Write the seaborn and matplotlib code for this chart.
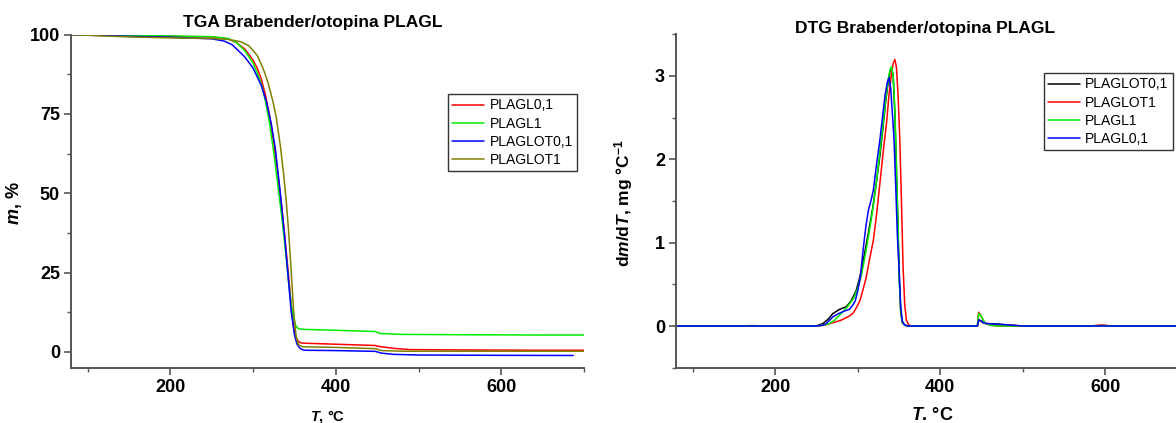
import pandas as pd
import numpy as np
import matplotlib.pyplot as plt
import matplotlib.ticker as mticker
import seaborn as sns

# TGA data (T in degC, mass in %)
tga_red_T = [80, 150, 200, 250, 270, 280, 290, 300, 305, 310, 315, 320, 325, 330, 335, 340, 343, 346, 349, 352, 355, 358, 365, 400, 448, 452, 470, 490, 550, 650, 700]
tga_red_m = [100, 99.7, 99.5, 99.3, 98.7, 97.5, 95.5, 92, 89.5, 86, 81, 74.5, 66, 56, 45, 32, 24, 15, 8, 4.5, 3.2, 2.8, 2.7, 2.4, 2.0, 1.7, 1.1, 0.7, 0.6, 0.5, 0.5]

tga_green_T = [80, 150, 200, 250, 270, 280, 290, 300, 305, 310, 315, 320, 325, 330, 335, 340, 343, 346, 349, 352, 355, 360, 400, 448, 453, 480, 550, 650, 700]
tga_green_m = [100, 99.8, 99.6, 99.4, 98.8, 97.5, 95, 91, 88, 84.5, 79, 72, 63, 52.5, 42, 30, 22, 15, 10.5, 8, 7.3, 7.1, 6.8, 6.4, 5.8, 5.5, 5.4, 5.3, 5.3]

tga_blue_T = [80, 150, 200, 250, 265, 275, 290, 300, 310, 316, 322, 327, 333, 338, 342, 346, 350, 353, 357, 362, 400, 448, 455, 470, 500, 600, 687]
tga_blue_m = [100, 99.5, 99.2, 98.7, 98, 96.8, 93, 89.5, 84, 79, 72, 64, 50, 37, 25, 13, 5.5, 2.5, 1.0, 0.5, 0.4, 0.15, -0.4, -0.8, -1.0, -1.1, -1.15]

tga_olive_T = [80, 150, 200, 250, 270, 285, 295, 305, 312, 318, 324, 328, 333, 337, 340, 343, 346, 349, 352, 355, 360, 400, 448, 455, 480, 600, 700]
tga_olive_m = [100, 99.3, 99, 98.8, 98.5, 97.8, 96.5, 93.5, 89.5, 85, 79, 74, 65, 56, 48, 38, 26, 13, 5, 2.2, 1.6, 1.4, 1.0, 0.4, 0.2, 0.2, 0.2]

tga_names = ["PLAGL0,1", "PLAGL1", "PLAGLOT0,1", "PLAGLOT1"]
tga_colors = ["#ff0000", "#00ee00", "#0000ff", "#808000"]

# DTG data (T in degC, dm/dT)
dtg_black_T = [80, 200, 250, 258, 264, 270, 278, 286, 292, 298, 303, 308, 313, 318, 323, 327, 331, 334, 337, 339, 341, 343, 345, 347, 349, 350.5, 352, 354, 357, 362, 400, 445, 446.5, 449, 452, 456, 465, 480, 500, 580, 595, 610, 700]
dtg_black_v = [0, 0, 0, 0.03, 0.08, 0.15, 0.2, 0.23, 0.3, 0.42, 0.6, 0.85, 1.12, 1.4, 1.75, 2.05, 2.42, 2.7, 2.93, 3.05, 3.1, 3.0, 2.55, 1.85, 1.1, 0.55, 0.18, 0.04, 0.01, 0, 0, 0, 0.07, 0.06, 0.04, 0.03, 0.025, 0.015, 0, 0, 0.008, 0, 0]

dtg_red_T = [80, 160, 170, 200, 250, 260, 270, 280, 290, 295, 300, 303, 306, 310, 314, 319, 323, 327, 331, 335, 338, 341, 343, 345, 347, 349, 351, 353, 355, 357, 359, 362, 366, 400, 445, 446.5, 449, 452, 455, 460, 470, 580, 595, 610, 700]
dtg_red_v = [0, 0, 0.005, 0, 0, 0.01, 0.04, 0.07, 0.12, 0.16, 0.25, 0.31, 0.42, 0.57, 0.78, 1.03, 1.35, 1.72, 2.1, 2.44, 2.78, 3.04, 3.15, 3.2, 3.1, 2.75, 2.24, 1.5, 0.7, 0.25, 0.07, 0.01, 0, 0, 0, 0.165, 0.13, 0.07, 0.03, 0.01, 0, 0, 0.01, 0, 0]

dtg_green_T = [80, 200, 250, 258, 266, 272, 278, 284, 289, 295, 300, 305, 310, 315, 319, 323, 327, 331, 334, 337, 339, 341, 343, 345, 347, 349, 350, 352, 354, 357, 362, 400, 445, 446.5, 449, 452, 455, 460, 470, 700]
dtg_green_v = [0, 0, 0, 0.01, 0.03, 0.07, 0.13, 0.19, 0.25, 0.33, 0.45, 0.63, 0.9, 1.19, 1.45, 1.75, 2.1, 2.44, 2.72, 2.96, 3.07, 3.11, 3.0, 2.6, 1.9, 1.15, 0.63, 0.2, 0.05, 0.01, 0, 0, 0, 0.15, 0.13, 0.07, 0.03, 0.01, 0, 0]

dtg_blue_T = [80, 200, 250, 258, 262, 270, 277, 284, 290, 294, 297, 300, 303, 307, 310, 313, 316, 319, 323, 327, 330, 333, 336, 338, 340, 342, 344, 346, 348, 350.4, 352, 354, 357, 362, 400, 445, 446.5, 449, 452, 456, 465, 480, 500, 700]
dtg_blue_v = [0, 0, 0, 0.01, 0.03, 0.11, 0.15, 0.18, 0.2, 0.25, 0.3, 0.42, 0.57, 0.95, 1.2, 1.39, 1.5, 1.63, 1.95, 2.24, 2.5, 2.76, 2.93, 2.98, 2.85, 2.55, 2.24, 1.7, 1.1, 0.63, 0.25, 0.06, 0.01, 0, 0, 0, 0.075, 0.065, 0.04, 0.03, 0.025, 0.015, 0, 0]

dtg_names = ["PLAGLOT0,1", "PLAGLOT1", "PLAGL1", "PLAGL0,1"]
dtg_colors = ["#000000", "#ff0000", "#00ee00", "#0000ff"]

sns.set_style("ticks")
plt.rcParams['font.family'] = ['Liberation Sans', 'DejaVu Sans']
plt.rcParams['mathtext.fontset'] = 'custom'
plt.rcParams['mathtext.rm'] = 'Liberation Sans:bold'
plt.rcParams['mathtext.it'] = 'Liberation Sans:italic:bold'
plt.rcParams['mathtext.bf'] = 'Liberation Sans:bold'
plt.rcParams['text.color'] = 'black'
plt.rcParams['axes.labelcolor'] = 'black'
plt.rcParams['xtick.color'] = 'black'
plt.rcParams['ytick.color'] = 'black'

df_tga = pd.concat([
    pd.DataFrame({"T": tga_red_T, "val": tga_red_m, "sample": tga_names[0]}),
    pd.DataFrame({"T": tga_green_T, "val": tga_green_m, "sample": tga_names[1]}),
    pd.DataFrame({"T": tga_blue_T, "val": tga_blue_m, "sample": tga_names[2]}),
    pd.DataFrame({"T": tga_olive_T, "val": tga_olive_m, "sample": tga_names[3]}),
])
df_dtg = pd.concat([
    pd.DataFrame({"T": dtg_black_T, "val": dtg_black_v, "sample": dtg_names[0]}),
    pd.DataFrame({"T": dtg_red_T, "val": dtg_red_v, "sample": dtg_names[1]}),
    pd.DataFrame({"T": dtg_green_T, "val": dtg_green_v, "sample": dtg_names[2]}),
    pd.DataFrame({"T": dtg_blue_T, "val": dtg_blue_v, "sample": dtg_names[3]}),
])

fig = plt.figure(figsize=(11.76, 4.23), dpi=100)
ax1 = fig.add_axes([71/1176, 1-367.7/423, 513/1176, 333/423])
ax2 = fig.add_axes([676/1176, 1-367.7/423, 512/1176, 333.4/423])

sns.lineplot(data=df_tga, x="T", y="val", hue="sample", hue_order=tga_names,
             palette=tga_colors, estimator=None, sort=False, lw=1.1, ax=ax1)
sns.lineplot(data=df_dtg, x="T", y="val", hue="sample", hue_order=dtg_names,
             palette=dtg_colors, estimator=None, sort=False, lw=1.1, ax=ax2)

ax1.set_xlim(80, 700)
ax1.set_ylim(-5, 100)
ax1.yaxis.set_major_locator(mticker.MultipleLocator(25))
ax1.yaxis.set_minor_locator(mticker.MultipleLocator(12.5))

ax2.set_xlim(80, 700)
ax2.set_ylim(-0.5, 3.5)
ax2.yaxis.set_major_locator(mticker.MultipleLocator(1))
ax2.yaxis.set_minor_locator(mticker.MultipleLocator(0.5))

for ax in (ax1, ax2):
    ax.xaxis.set_major_locator(mticker.MultipleLocator(200))
    ax.xaxis.set_minor_locator(mticker.MultipleLocator(100))
    for s in ("top", "right"):
        ax.spines[s].set_visible(False)
    for s in ("left", "bottom"):
        ax.spines[s].set_color("#555555")
        ax.spines[s].set_linewidth(1.4)
    ax.tick_params(which="major", direction="out", length=5, width=1.2, color="#555555",
                   labelcolor="black", labelsize=13, pad=3)
    ax.tick_params(which="minor", direction="out", length=3, width=1.0, color="#555555")
    for lab in ax.get_xticklabels() + ax.get_yticklabels():
        lab.set_fontweight("bold")

ax1.set_xlabel(r"$\mathit{T}$, °C", fontsize=10.5, fontweight="bold")
ax1.xaxis.set_label_coords(0.501, -0.121)
ax1.set_ylabel(r"$\mathit{m}$, %", fontsize=13, fontweight="bold")
ax1.yaxis.set_label_coords(-0.091, 0.495)

ax2.set_xlabel(r"$\mathit{T}$. °C", fontsize=13, fontweight="bold")
ax2.xaxis.set_label_coords(0.5, -0.117)
ax2.set_ylabel(r"d$\mathit{m}$/d$\mathit{T}$, mg °C$^{\mathbf{-1}}$", fontsize=12.5, fontweight="bold")
ax2.yaxis.set_label_coords(-0.08, 0.495)

fig.text(313/1176, 1-22/423, "TGA Brabender/otopina PLAGL", ha="center", va="center",
         fontsize=12.5, fontweight="bold")
fig.text(925/1176, 1-28/423, "DTG Brabender/otopina PLAGL", ha="center", va="center",
         fontsize=12.5, fontweight="bold")

for ax, anchor in ((ax1, (0.986, 0.821)), (ax2, (0.970, 0.883))):
    h, l = ax.get_legend_handles_labels()
    leg = ax.legend(h, l, loc="upper right", bbox_to_anchor=anchor, borderaxespad=0,
                    fontsize=10, frameon=True, fancybox=False, handlelength=2.3,
                    handletextpad=0.4, labelspacing=0.3, borderpad=0.3)
    leg.get_frame().set_edgecolor("black")
    leg.get_frame().set_linewidth(1.0)
    for line in leg.get_lines():
        line.set_linewidth(1.1)

fig.savefig("out.png", dpi=100)
